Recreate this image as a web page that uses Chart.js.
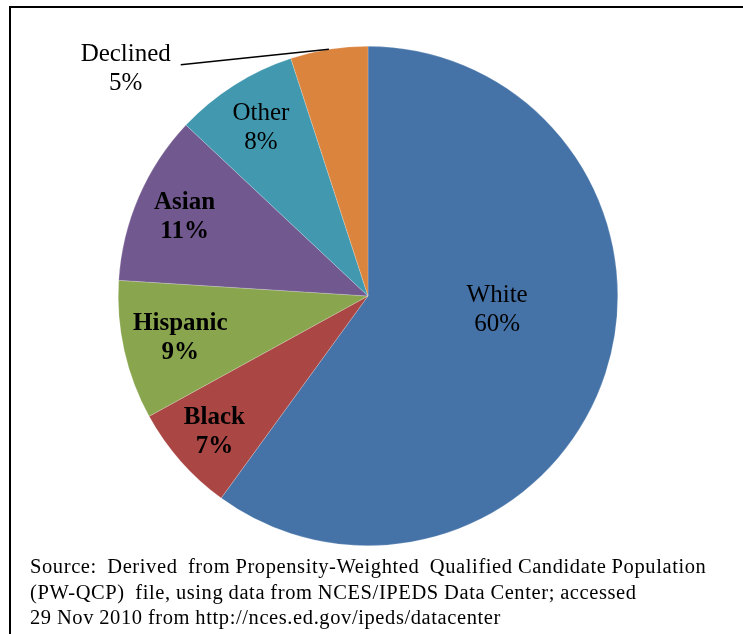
<!DOCTYPE html>
<html>
<head>
<meta charset="utf-8">
<script src="https://cdn.jsdelivr.net/npm/chart.js@4"></script>
<style>
  html, body { margin: 0; padding: 0; background: #fff; overflow: hidden; }
  #wrap { position: relative; width: 743px; height: 634px; overflow: hidden; }
  #source { position: absolute; left: 30px; top: 554px; font: 20.5px "Liberation Serif", serif;
            letter-spacing: 0.6px; word-spacing: -0.5px; line-height: 25.5px; color: #000; white-space: pre; }
</style>
</head>
<body>
<div id="wrap">
  <canvas id="pieChart" width="743" height="634"></canvas>
  <div id="source">Source:  Derived  from Propensity-Weighted  Qualified Candidate Population
(PW-QCP)  file, using data from NCES/IPEDS Data Center; accessed
29 Nov 2010 from http://nces.ed.gov/ipeds/datacenter</div>
</div>
<script>
// ---------- DATA ----------
const groups = ["White", "Black", "Hispanic", "Asian", "Other", "Declined"];
const shares = [60, 7, 9, 11, 8, 5];
const sliceColors = ["#4572A7", "#AA4643", "#89A54E", "#71588F", "#4198AF", "#DB843D"];
const boldLabel = [false, true, true, true, false, false];
// label anchor: fraction of radius along the slice middle, plus angle shift (deg)
const labelFrac = [0.52, 0.82, 0.77, 0.8, 0.8, 0];
const labelShift = [-12, 0, 0, 0, 0, 0];

// ---------- FRAME (top + left rule only) ----------
const frameLines = {
  id: "frameLines",
  beforeDraw(chart) {
    const ctx = chart.ctx;
    ctx.save();
    ctx.strokeStyle = "#000";
    ctx.lineWidth = 2;
    ctx.beginPath();
    ctx.moveTo(10, chart.height);
    ctx.lineTo(10, 7);
    ctx.lineTo(chart.width, 7);
    ctx.stroke();
    ctx.restore();
  },
};

// ---------- LABEL PLUGIN ----------
const sliceLabels = {
  id: "sliceLabels",
  afterDatasetsDraw(chart) {
    const ctx = chart.ctx;
    const arcs = chart.getDatasetMeta(0).data;
    ctx.save();
    ctx.fillStyle = "#000";
    ctx.textAlign = "center";
    ctx.textBaseline = "middle";
    arcs.forEach((arc, i) => {
      const p = arc.getProps(["x", "y", "startAngle", "endAngle", "outerRadius"], true);
      const mid = (p.startAngle + p.endAngle) / 2;
      let lx, ly;
      if (groups[i] === "Declined") {
        // outside label with leader line
        const ex = p.x + Math.cos(mid) * p.outerRadius;
        const ey = p.y + Math.sin(mid) * p.outerRadius;
        lx = p.x - p.outerRadius * 0.97;
        ly = p.y - p.outerRadius * 0.91;
        ctx.beginPath();
        ctx.strokeStyle = "#000";
        ctx.lineWidth = 1.5;
        ctx.moveTo(ex, ey);
        ctx.lineTo(lx + 55, ly - 4);
        ctx.stroke();
      } else {
        const a = mid + labelShift[i] * Math.PI / 180;
        lx = p.x + Math.cos(a) * p.outerRadius * labelFrac[i];
        ly = p.y + Math.sin(a) * p.outerRadius * labelFrac[i];
      }
      ctx.font = (boldLabel[i] ? "bold " : "") + "25px 'Liberation Serif', serif";
      ctx.fillText(groups[i], lx, ly - 14);
      ctx.fillText(shares[i] + "%", lx, ly + 15);
    });
    ctx.restore();
  },
};

new Chart(document.getElementById("pieChart"), {
  type: "pie",
  data: {
    labels: groups,
    datasets: [{
      data: shares,
      backgroundColor: sliceColors,
      borderColor: "rgba(255,255,255,0.4)",
      borderWidth: 0.5,
    }],
  },
  options: {
    responsive: false,
    animation: false,
    layout: { padding: { left: 118, right: 125, top: 46, bottom: 88 } },
    plugins: { legend: { display: false }, tooltip: { enabled: false } },
  },
  plugins: [frameLines, sliceLabels],
});
</script>
</body>
</html>
